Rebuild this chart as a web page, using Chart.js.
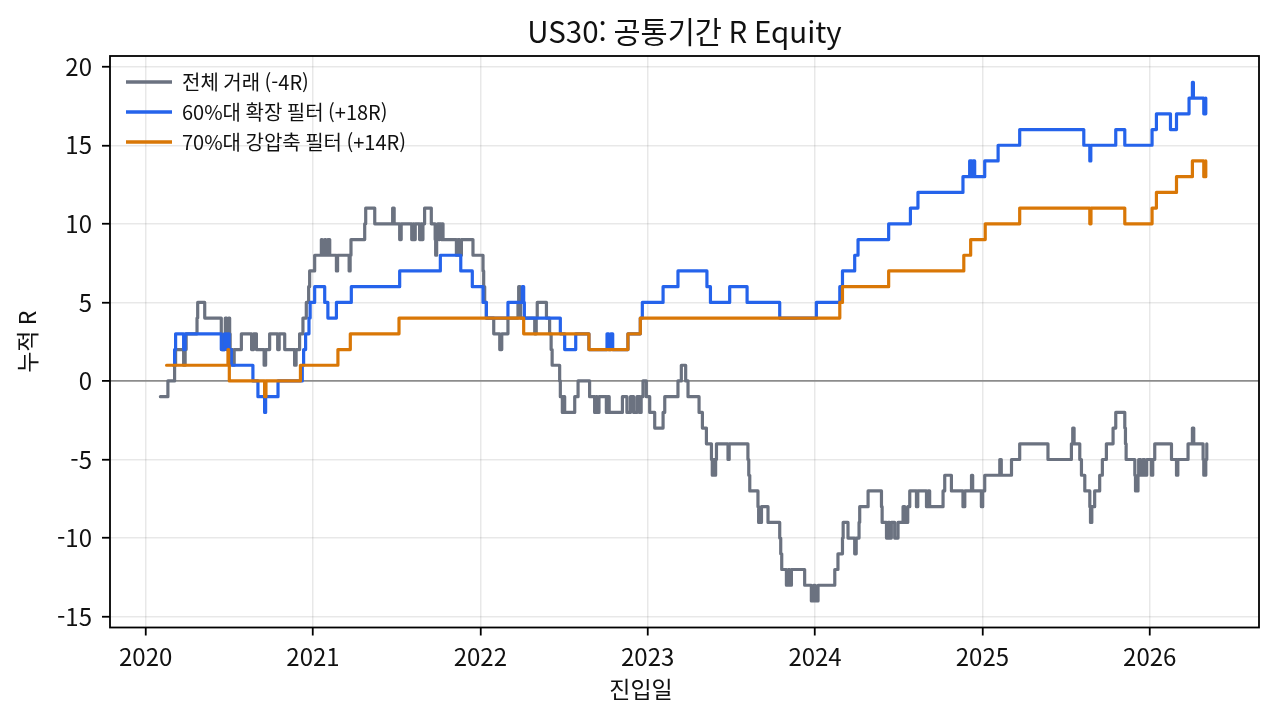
<!DOCTYPE html>
<html lang="ko">
<head>
<meta charset="utf-8">
<title>US30 공통기간 R Equity</title>
<script src="https://cdn.jsdelivr.net/npm/chart.js@4.4.1/dist/chart.umd.min.js"></script>
<style>
  html, body { margin: 0; padding: 0; background: #fff; }
  #wrap { width: 1278px; height: 721px; }
</style>
</head>
<body>
<div id="wrap"><canvas id="chart"></canvas></div>
<script>
// entry dates (decimal years) and cumulative R after each trade
const allDates = [
  2020.088, 2020.133, 2020.173, 2020.179, 2020.227, 2020.236, 2020.242, 2020.307, 2020.311, 2020.353,
  2020.452, 2020.457, 2020.472, 2020.476, 2020.484, 2020.488, 2020.493, 2020.496, 2020.502, 2020.505,
  2020.522, 2020.529, 2020.572, 2020.633, 2020.645, 2020.662, 2020.708, 2020.717, 2020.741, 2020.789,
  2020.798, 2020.831, 2020.890, 2020.899, 2020.920, 2020.940, 2020.960, 2020.974, 2020.980, 2021.010,
  2021.050, 2021.055, 2021.070, 2021.076, 2021.088, 2021.100, 2021.140, 2021.147, 2021.216, 2021.222,
  2021.227, 2021.309, 2021.315, 2021.369, 2021.476, 2021.485, 2021.518, 2021.527, 2021.590, 2021.599,
  2021.605, 2021.611, 2021.637, 2021.646, 2021.652, 2021.657, 2021.667, 2021.707, 2021.730, 2021.733,
  2021.739, 2021.745, 2021.753, 2021.757, 2021.767, 2021.772, 2021.777, 2021.857, 2021.866, 2021.876,
  2021.887, 2021.956, 2022.016, 2022.020, 2022.026, 2022.036, 2022.080, 2022.116, 2022.128, 2022.165,
  2022.225, 2022.229, 2022.238, 2022.241, 2022.325, 2022.334, 2022.340, 2022.395, 2022.414, 2022.423,
  2022.429, 2022.474, 2022.478, 2022.490, 2022.498, 2022.504, 2022.564, 2022.584, 2022.653, 2022.683,
  2022.692, 2022.698, 2022.709, 2022.753, 2022.761, 2022.770, 2022.849, 2022.876, 2022.897, 2022.916,
  2022.936, 2022.952, 2022.961, 2022.972, 2022.992, 2023.012, 2023.042, 2023.092, 2023.102, 2023.181,
  2023.201, 2023.227, 2023.241, 2023.307, 2023.327, 2023.351, 2023.381, 2023.386, 2023.394, 2023.400,
  2023.406, 2023.411, 2023.480, 2023.487, 2023.599, 2023.604, 2023.610, 2023.659, 2023.663, 2023.680,
  2023.719, 2023.789, 2023.795, 2023.801, 2023.829, 2023.840, 2023.849, 2023.859, 2023.938, 2023.978,
  2023.992, 2024.001, 2024.018, 2024.118, 2024.137, 2024.164, 2024.168, 2024.197, 2024.237, 2024.246,
  2024.263, 2024.267, 2024.317, 2024.397, 2024.401, 2024.427, 2024.436, 2024.446, 2024.456, 2024.476,
  2024.496, 2024.526, 2024.536, 2024.554, 2024.566, 2024.606, 2024.614, 2024.666, 2024.676, 2024.685,
  2024.765, 2024.775, 2024.815, 2024.884, 2024.895, 2024.935, 2024.942, 2024.994, 2025.002, 2025.014,
  2025.104, 2025.113, 2025.174, 2025.223, 2025.392, 2025.532, 2025.540, 2025.548, 2025.582, 2025.592,
  2025.612, 2025.642, 2025.646, 2025.654, 2025.671, 2025.701, 2025.717, 2025.741, 2025.781, 2025.797,
  2025.851, 2025.855, 2025.859, 2025.911, 2025.915, 2025.930, 2025.934, 2025.946, 2025.958, 2025.970,
  2025.982, 2026.010, 2026.018, 2026.030, 2026.130, 2026.160, 2026.168, 2026.229, 2026.255, 2026.263,
  2026.319, 2026.323, 2026.335, 2026.341
];
const allR = [
  -1, 0, 1, 2, 1, 2, 3, 4, 5, 4,
  3, 2, 3, 4, 3, 2, 3, 4, 3, 2,
  1, 2, 3, 2, 3, 2, 1, 2, 3, 2,
  3, 2, 1, 2, 3, 4, 5, 6, 7, 8,
  9, 8, 9, 8, 9, 8, 7, 8, 7, 8,
  9, 10, 11, 10, 11, 10, 9, 10, 9, 10,
  9, 10, 9, 10, 9, 10, 11, 10, 9, 8,
  9, 10, 9, 10, 9, 10, 9, 8, 9, 8,
  9, 8, 7, 6, 5, 4, 3, 2, 3, 4,
  5, 6, 5, 4, 3, 4, 5, 4, 3, 2,
  1, 0, -1, -2, -1, -2, -1, 0, -1, -2,
  -1, -2, -1, -2, -1, -2, -1, -2, -1, -2,
  -1, -2, -1, 0, -1, -2, -3, -2, -1, 0,
  1, 0, -1, -2, -3, -4, -5, -6, -5, -6,
  -5, -4, -5, -4, -5, -6, -7, -8, -9, -8,
  -9, -10, -11, -12, -13, -12, -13, -12, -13, -14,
  -13, -14, -13, -12, -11, -10, -9, -10, -11, -10,
  -9, -8, -7, -8, -9, -10, -9, -10, -9, -10,
  -9, -8, -9, -8, -7, -8, -7, -8, -7, -8,
  -7, -6, -7, -8, -7, -6, -7, -8, -7, -6,
  -5, -6, -5, -4, -5, -4, -3, -4, -5, -6,
  -7, -8, -9, -8, -7, -6, -5, -4, -3, -2,
  -3, -4, -5, -6, -7, -6, -5, -6, -5, -6,
  -5, -6, -5, -4, -5, -6, -5, -4, -3, -4,
  -5, -6, -5, -4
];

const wideDates = [
  2020.167, 2020.173, 2020.179, 2020.227, 2020.236, 2020.452, 2020.472, 2020.484, 2020.490, 2020.499,
  2020.512, 2020.641, 2020.671, 2020.711, 2020.717, 2020.791, 2020.936, 2020.944, 2020.956, 2020.976,
  2020.983, 2021.010, 2021.070, 2021.089, 2021.140, 2021.229, 2021.518, 2021.761, 2021.883, 2021.952,
  2022.016, 2022.036, 2022.165, 2022.251, 2022.259, 2022.263, 2022.478, 2022.504, 2022.570, 2022.649,
  2022.757, 2022.767, 2022.779, 2022.791, 2022.882, 2022.956, 2022.968, 2023.092, 2023.181, 2023.354,
  2023.375, 2023.490, 2023.594, 2023.789, 2024.008, 2024.148, 2024.164, 2024.237, 2024.257, 2024.440,
  2024.570, 2024.615, 2024.884, 2024.924, 2024.936, 2024.945, 2024.954, 2025.014, 2025.094, 2025.223,
  2025.606, 2025.642, 2025.648, 2025.797, 2025.851, 2026.014, 2026.040, 2026.124, 2026.160, 2026.235,
  2026.255, 2026.261, 2026.323, 2026.335
];
const wideR = [
  1, 2, 3, 2, 3, 2, 3, 2, 3, 2,
  1, 0, -1, -2, -1, 0, 1, 2, 3, 4,
  5, 6, 5, 4, 5, 6, 7, 8, 7, 6,
  5, 4, 5, 6, 5, 4, 3, 2, 3, 2,
  3, 2, 3, 2, 3, 4, 5, 6, 7, 6,
  5, 6, 5, 4, 5, 6, 7, 8, 9, 10,
  11, 12, 13, 14, 13, 14, 13, 14, 15, 16,
  15, 14, 15, 16, 15, 16, 17, 16, 17, 18,
  19, 18, 17, 18
];

const squeezeDates = [
  2020.125, 2020.492, 2020.496, 2020.500, 2020.711, 2020.719, 2020.925, 2021.149, 2021.223, 2021.514,
  2022.259, 2022.649, 2022.882, 2022.956, 2024.148, 2024.164, 2024.440, 2024.889, 2024.930, 2025.017,
  2025.223, 2025.642, 2025.649, 2025.851, 2026.014, 2026.040, 2026.160, 2026.255, 2026.323, 2026.335
];
const squeezeR = [
  1, 2, 1, 0, -1, 0, 1, 2, 3, 4,
  3, 2, 3, 4, 5, 6, 7, 8, 9, 10,
  11, 10, 11, 10, 11, 12, 13, 14, 13, 14
];

const seriesLabels = ['전체 거래 (-4R)', '60%대 확장 필터 (+18R)', '70%대 강압축 필터 (+14R)'];
const seriesColors = ['#6b7280', '#2563eb', '#d97706'];
const yearTicks = [2020, 2021, 2022, 2023, 2024, 2025, 2026];
const rTicks = [-15, -10, -5, 0, 5, 10, 15, 20];

const toPoints = (xs, ys) => xs.map((x, i) => ({ x: x, y: ys[i] }));

Chart.defaults.font.family = "'Noto Sans CJK KR', 'Noto Sans', sans-serif";
Chart.defaults.color = '#111';

// box around the plot; legend sits inside the top-left corner of the plot
const frame = {
  id: 'frame',
  afterLayout(chart) {
    const lg = chart.legend, a = chart.chartArea;
    lg.left = a.left + 6;
    lg.top = a.top + 6;
    lg.right = lg.left + lg.width;
    lg.bottom = lg.top + lg.height;
  },
  afterDatasetsDraw(chart) {
    const { ctx, chartArea: a } = chart;
    ctx.save();
    ctx.strokeStyle = '#000';
    ctx.lineWidth = 1.8;
    ctx.strokeRect(a.left, a.top, a.right - a.left, a.bottom - a.top);
    ctx.restore();
  }
};

const lineSet = (i, xs, ys, order) => ({
  label: seriesLabels[i],
  data: toPoints(xs, ys),
  borderColor: seriesColors[i],
  backgroundColor: seriesColors[i],
  borderWidth: 3.2,
  borderJoinStyle: 'round',
  borderCapStyle: 'round',
  stepped: 'before',
  pointRadius: 0,
  fill: false,
  order: order
});

const gridColor = 'rgba(0,0,0,0.09)';

new Chart(document.getElementById('chart'), {
  type: 'line',
  data: {
    datasets: [
      lineSet(0, allDates, allR, 3),
      lineSet(1, wideDates, wideR, 2),
      lineSet(2, squeezeDates, squeezeR, 1)
    ]
  },
  options: {
    responsive: true,
    maintainAspectRatio: false,
    animation: false,
    layout: { padding: { left: 23, right: 19, top: 0, bottom: 0 } },
    plugins: {
      title: {
        display: true,
        fullSize: false,
        text: 'US30: 공통기간 R Equity',
        font: { size: 29.5, weight: 'normal' },
        color: '#111',
        padding: { top: 14.3, bottom: 6.3 }
      },
      subtitle: {
        display: true,
        position: 'bottom',
        text: '진입일',
        font: { size: 23, weight: 'normal' },
        color: '#111',
        padding: { top: 0, bottom: 18 }
      },
      legend: {
        position: 'chartArea',
        align: 'start',
        labels: {
          font: { size: 20 },
          boxWidth: 46,
          boxHeight: 3.5,
          padding: 10,
          sort: (a, b) => a.datasetIndex - b.datasetIndex,
          generateLabels: chart => Chart.defaults.plugins.legend.labels.generateLabels(chart)
            .map(l => Object.assign(l, { lineWidth: 0, fillStyle: l.strokeStyle }))
        }
      },
      tooltip: { enabled: false }
    },
    scales: {
      x: {
        type: 'linear',
        min: 2019.787,
        max: 2026.653,
        afterBuildTicks: s => { s.ticks = yearTicks.map(v => ({ value: v })); },
        afterFit: s => { s.height = 47.9; },
        ticks: { callback: v => String(v), font: { size: 24 }, padding: 7, maxRotation: 0, autoSkip: false },
        grid: { color: gridColor, lineWidth: 1.5, tickColor: '#000', tickLength: 8, tickWidth: 1.8 },
        border: { display: false }
      },
      y: {
        type: 'linear',
        min: -15.69,
        max: 20.68,
        afterBuildTicks: s => { s.ticks = rTicks.map(v => ({ value: v })); },
        afterFit: s => { s.width = 87; },
        ticks: { callback: v => String(v), font: { size: 24 }, padding: 10 },
        grid: {
          color: c => c.tick && c.tick.value === 0 ? '#8c8c8c' : gridColor,
          lineWidth: c => c.tick && c.tick.value === 0 ? 1.8 : 1.5,
          tickColor: '#000', tickLength: 8, tickWidth: 1.8
        },
        border: { display: false },
        title: { display: true, text: '누적 R', font: { size: 23 }, padding: { top: -9.3, bottom: 0 } }
      }
    }
  },
  plugins: [frame]
});
</script>
</body>
</html>
